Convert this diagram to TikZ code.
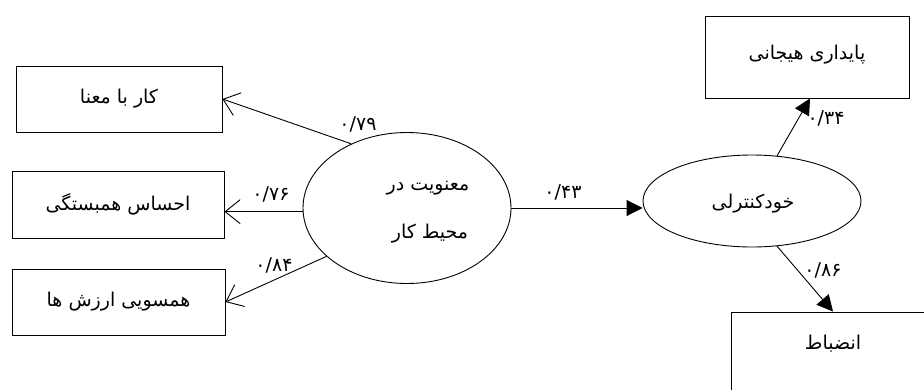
\documentclass[tikz,border=0pt]{standalone}
\usepackage{fontspec}
\newfontfamily\arabicfont[Script=Arabic]{DejaVu Sans}
\TeXXeTstate=1
\usetikzlibrary{arrows.meta,shapes.geometric}
\tikzset{
  fa/.style={font=\arabicfont\fontsize{19}{22}\selectfont, inner sep=0pt},
  num/.style={font=\arabicfont\fontsize{19}{22}\selectfont, inner sep=0pt},
  box/.style={draw, line width=0.9pt, inner sep=0pt, font=\arabicfont\fontsize{19}{22}\selectfont},
  latent/.style={draw, ellipse, line width=0.9pt, inner sep=0pt},
  openarr/.style={line width=0.9pt, -{Straight Barb[length=15pt,width=24pt,line width=0.9pt]}},
  fillarr/.style={line width=0.9pt, -{Triangle[length=16pt,width=16pt]}},
}
\begin{document}
\begin{tikzpicture}[x=1pt,y=-1pt]
\useasboundingbox (0,0) rectangle (924,389);
\fill[white] (0,0) rectangle (924,389);
\begin{scope}
\clip (0,0) rectangle (924,389);
% boxes
\node[box, minimum width=206pt, minimum height=66pt] (b1) at (119,99) {\beginR کار با معنا\endR};
\node[box, minimum width=212pt, minimum height=67pt] (b2) at (118,204.5) {\beginR احساس همبستگی\endR};
\node[box, minimum width=213pt, minimum height=66pt] (b3) at (118.5,302) {\beginR همسویی ارزش ها\endR};
\node[box, minimum width=204pt, minimum height=82pt] (b4) at (807,57) {};
\node[fa] (b4t) at (807,55) {\beginR پایداری هیجانی\endR};
\node[box, minimum width=204pt, minimum height=82pt] (b5) at (833,353) {};
\node[fa] (b5t) at (833,344) {\beginR انضباط\endR};
% latent variables
\node[latent, minimum width=208pt, minimum height=151pt] (e1) at (407,208) {};
\node[fa] (e1a) at (428,188) {\beginR معنویت در\endR};
\node[fa] (e1b) at (430,234) {\beginR محیط کار\endR};
\node[latent, minimum width=218pt, minimum height=92pt] (e2) at (752,201) {};
\node[fa] (e2t) at (753,204) {\beginR خودکنترلی\endR};
% connectors
\draw[openarr] (e1.131) -- (b1.east);
\draw[openarr] (e1.182) -- (e1.182 -| b2.east);
\draw[openarr] (e1.211) -- (b3.east);
\draw[fillarr] (e1.east) -- (e1.east -| e2.west);
\draw[fillarr] (e2.61) -- ([xshift=3pt]b4.south);
\draw[fillarr] (e2.-61) -- (b5.north);
% coefficients
\node[num] (n1) at (358,124) {۰/۷۹};
\node[num] (n2) at (271,194) {۰/۷۶};
\node[num] (n3) at (274,265) {۰/۸۴};
\node[num] (n4) at (563,192) {۰/۴۳};
\node[num] (n5) at (826,118) {۰/۳۴};
\node[num] (n6) at (823,270) {۰/۸۶};
\end{scope}
\end{tikzpicture}
\end{document}
